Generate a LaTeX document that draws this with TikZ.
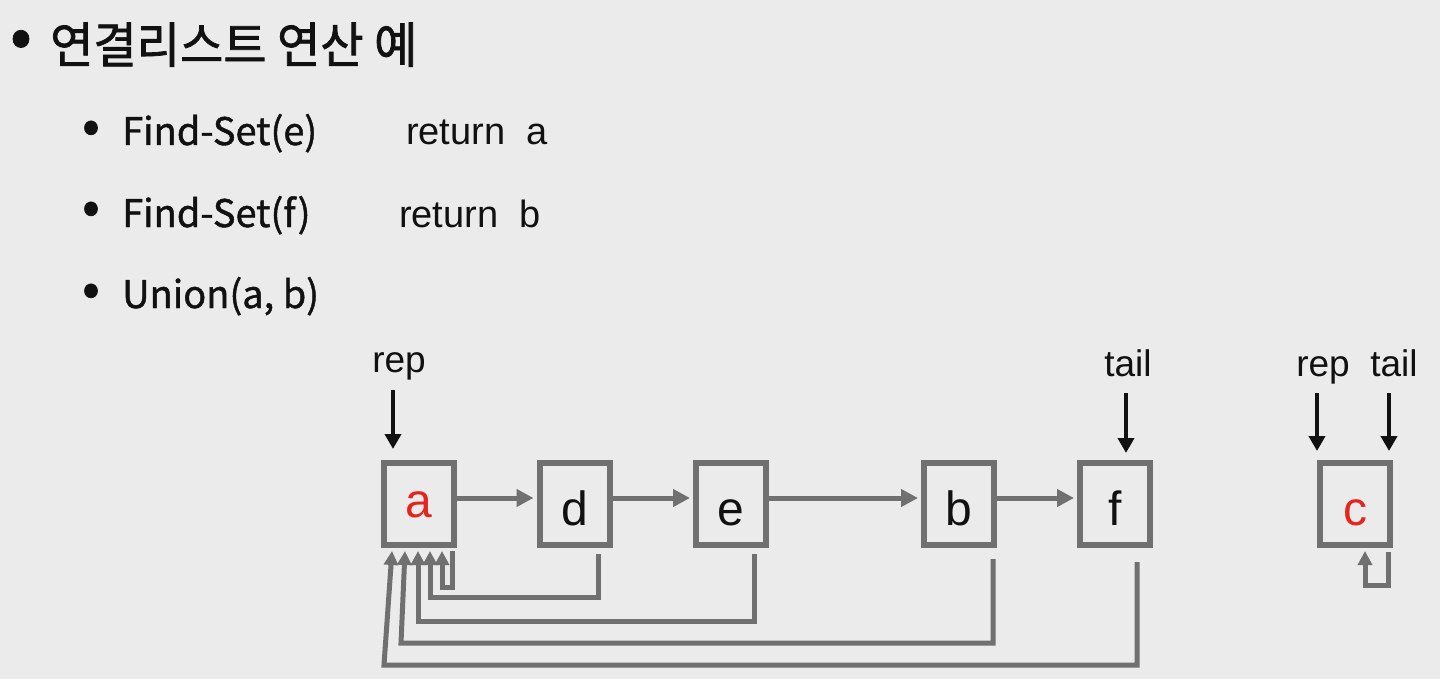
\documentclass[tikz,border=0pt]{standalone}
\usepackage{fontspec}
\setmainfont{Liberation Sans}
\newfontfamily\krfont{Noto Sans CJK KR}[FakeBold=1.2]
\newfontfamily\krtitle{Noto Sans CJK KR}[FakeBold=1.5,FakeStretch=0.96]
\usetikzlibrary{arrows.meta}
\definecolor{bg}{HTML}{EBEBEB}
\definecolor{boxgray}{HTML}{707070}
\definecolor{letterred}{HTML}{E8231C}
\definecolor{ink}{HTML}{111111}
\begin{document}
\begin{tikzpicture}[x=1pt,y=-1pt,
  box/.style={draw=boxgray,line width=6pt,minimum width=70pt,minimum height=82pt,
    inner sep=0pt,text height=42pt,text depth=0pt,text=ink,font=\fontsize{48}{48}\selectfont},
  fwd/.style={boxgray,line width=5pt,-{Triangle[length=17pt,width=17pt]}},
  back/.style={boxgray,line width=5pt,-{Triangle[length=14pt,width=14pt]}},
  ptr/.style={ink,line width=4pt,-{Triangle[length=15pt,width=16pt]}},
  lbl/.style={anchor=base,inner sep=0pt,text=ink,font=\fontsize{37}{37}\selectfont},
  title/.style={anchor=base west,inner sep=0pt,text=ink,font=\krtitle\fontsize{49}{49}\selectfont},
  item/.style={anchor=base west,inner sep=0pt,text=ink,font=\krfont\fontsize{38}{38}\selectfont},
  ret/.style={anchor=base west,inner sep=0pt,text=ink,font=\fontsize{38}{38}\selectfont},
  bul/.style={inner sep=0pt,text=ink,font=\krfont\fontsize{#1}{#1}\selectfont}]
\fill[bg] (0,0) rectangle (1440,679);
\useasboundingbox (0,0) rectangle (1440,679);

% text
\node[bul=64] (t0) at (21,44) {•};
\node[title] (title) at (50,63) {연결리스트 연산 예};
\node[bul=52] (t1) at (91,132) {•};
\node[item] (s1) at (122,145) {Find-Set(e)};
\node[ret] (r1) at (406,145) {return\ \ a};
\node[bul=52] (t2) at (91,213) {•};
\node[item] (s2) at (122,227) {Find-Set(f)};
\node[ret] (r2) at (399,227) {return\ \ b};
\node[bul=52] (t3) at (91,295) {•};
\node[item] (s3) at (122,308) {Union(a, b)};

% boxes
\node[box,text height=26pt] (a) at (419,504) {\textcolor{letterred}{a}};
\node[box] (d) at (574.5,504) {d};
\node[box] (e) at (731,504) {e};
\node[box] (b) at (959,504) {b};
\node[box] (f) at (1115,504) {f};
\node[box] (c) at (1355,504) {\textcolor{letterred}{c}};

% next pointers
\draw[fwd] ([yshift=6pt]a.east) -- ([yshift=6pt,xshift=-3pt]d.west);
\draw[fwd] ([yshift=6pt]d.east) -- ([yshift=6pt,xshift=-3pt]e.west);
\draw[fwd] ([yshift=6pt]e.east) -- ([yshift=6pt,xshift=-3pt]b.west);
\draw[fwd] ([yshift=6pt]b.east) -- ([yshift=6pt,xshift=-3pt]f.west);

% representative pointers
\draw[back] ([xshift=33pt,yshift=-3pt]a.south) |- ([xshift=23pt,yshift=-39pt]a.south) -- ([xshift=23pt,yshift=-3pt]a.south);
\draw[back] ([xshift=23.5pt,yshift=-6pt]d.south) |- ([xshift=11pt,yshift=-49pt]a.south) -- ([xshift=11pt,yshift=-3pt]a.south);
\draw[back] ([xshift=23pt,yshift=-6pt]e.south) |- ([xshift=-1pt,yshift=-73pt]a.south) -- ([xshift=-1pt,yshift=-3pt]a.south);
\draw[back] ([xshift=34pt,yshift=-11pt]b.south) |- ([xshift=-18pt,yshift=-95pt]a.south) -- ([xshift=-14pt,yshift=-3pt]a.south);
\draw[back] ([xshift=22pt,yshift=-14pt]f.south) |- ([xshift=-35pt,yshift=-117pt]a.south) -- ([xshift=-27pt,yshift=-3pt]a.south);
\draw[back] ([xshift=33pt,yshift=-4pt]c.south) |- ([xshift=10pt,yshift=-37pt]c.south) -- ([xshift=10pt,yshift=-3pt]c.south);

% rep / tail
\node[lbl] (repa) at (399,372) {rep};
\draw[ptr] ([xshift=-26pt,yshift=70pt]a.north) -- ([xshift=-26pt,yshift=11pt]a.north);
\node[lbl] (tailf) at (1128,376) {tail};
\draw[ptr] ([xshift=11pt,yshift=67pt]f.north) -- ([xshift=11pt,yshift=7pt]f.north);
\node[lbl] (repc) at (1323,376) {rep};
\node[lbl] (tailc) at (1394,376) {tail};
\draw[ptr] ([xshift=-38pt,yshift=67pt]c.north) -- ([xshift=-38pt,yshift=9pt]c.north);
\draw[ptr] ([xshift=34pt,yshift=67pt]c.north) -- ([xshift=34pt,yshift=9pt]c.north);
\end{tikzpicture}
\end{document}
